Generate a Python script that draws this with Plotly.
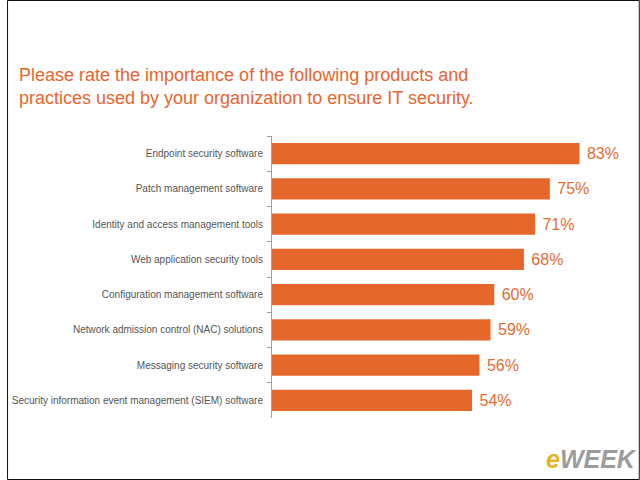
import plotly.graph_objects as go

categories = [
    "Endpoint security software",
    "Patch management software",
    "Identity and access management tools",
    "Web application security tools",
    "Configuration management software",
    "Network admission control (NAC) solutions",
    "Messaging security software",
    "Security information event management (SIEM) software",
]
values = [83, 75, 71, 68, 60, 59, 56, 54]

title_text = ("Please rate the importance of the following products and<br>"
              "practices used by your organization to ensure IT security.")

W, H = 640, 480
ML, MR, MT, MB = 268, 20, 136, 62
PW, PH = W - ML - MR, H - MT - MB

ORANGE = "#E6672B"

fig = go.Figure(go.Bar(
    y=categories,
    x=values,
    orientation="h",
    marker=dict(color=ORANGE, line=dict(width=0)),
    width=0.6,
    text=[f" {v}%" for v in values],
    textposition="outside",
    textfont=dict(color="#E46C33", size=16, family="Liberation Sans, Arial"),
    cliponaxis=False,
))

def px_to_paper_x(px):
    return (px - ML) / PW

def px_to_paper_y(py):
    return (H - MB - py) / PH

fig.update_layout(
    width=W, height=H,
    margin=dict(l=ML, r=MR, t=MT, b=MB),
    paper_bgcolor="white", plot_bgcolor="white",
    showlegend=False,
    font=dict(family="Liberation Sans, Arial", color="#555555"),
    xaxis=dict(range=[0, 83 * PW / 311], visible=False, fixedrange=True),
    yaxis=dict(
        autorange="reversed",
        showline=True, linecolor="#A0A0A0", linewidth=1,
        ticks="outside", ticklen=4, tickcolor="#A0A0A0",
        tickson="boundaries",
        tickfont=dict(size=10, color="#555555"),
        ticklabelstandoff=6,
        showgrid=False,
    ),
    annotations=[
        dict(
            text=title_text, xref="paper", yref="paper",
            x=px_to_paper_x(10), y=px_to_paper_y(63),
            xanchor="left", yanchor="top", align="left", showarrow=False,
            font=dict(size=18, color="#E8652E", family="Liberation Sans, Arial"),
        ),
        dict(
            text="<b><i><span style='color:#E9B21F'>e</span>"
                 "<span style='color:#9C9C9C'>WEEK</span></i></b>",
            xref="paper", yref="paper",
            x=px_to_paper_x(591), y=px_to_paper_y(459),
            xanchor="center", yanchor="middle", showarrow=False,
            font=dict(size=25, family="Liberation Sans, Arial"),
        ),
    ],
    shapes=[
        dict(type="rect", xref="paper", yref="paper",
             x0=px_to_paper_x(0.5), x1=px_to_paper_x(639.5),
             y0=px_to_paper_y(479.5), y1=px_to_paper_y(0.5),
             line=dict(color="#111111", width=1), fillcolor="rgba(0,0,0,0)"),
    ],
)

fig.write_html("out.html")
